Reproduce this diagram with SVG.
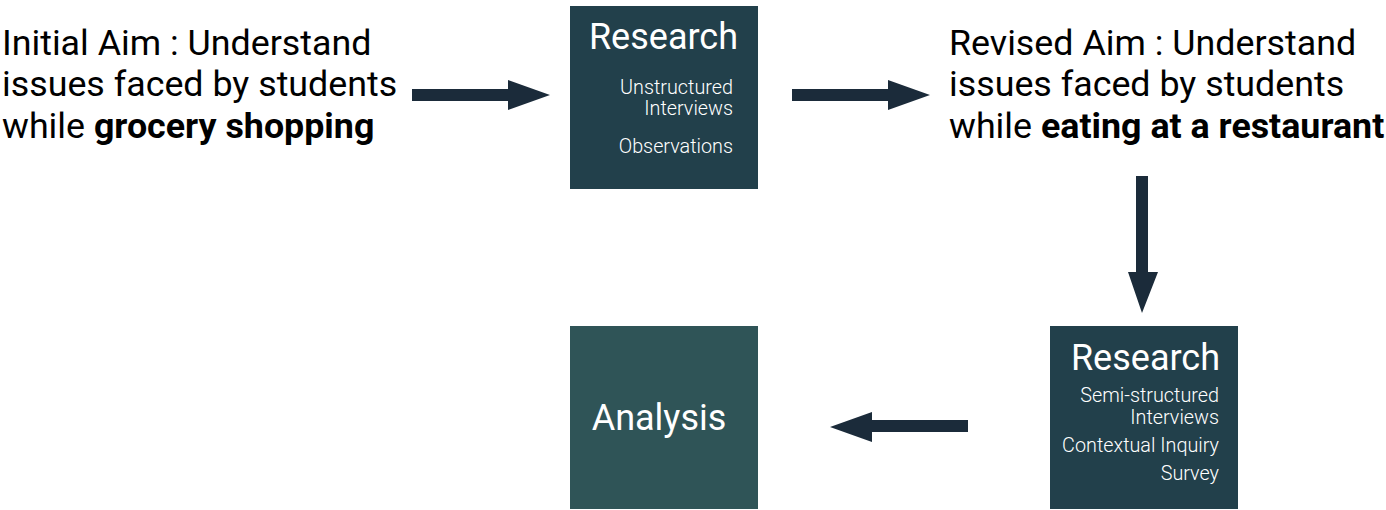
<svg xmlns="http://www.w3.org/2000/svg" width="1386" height="510" viewBox="0 0 1386 510">
<style>
.main{font-family:Roboto,"Liberation Sans",sans-serif;font-size:35.8px;fill:#000}
.b{font-weight:bold}
.title{font-family:Roboto,"Liberation Sans",sans-serif;font-size:36px;fill:#fff}
.sub{font-family:Roboto,"Liberation Sans",sans-serif;font-weight:300;font-size:19.8px;fill:#fff;text-anchor:end}
.arrow{fill:#1b2b3a}
</style>
<rect width="1386" height="510" fill="#fff"/>
<g id="initial-aim">
<text class="main" x="2" y="55">Initial Aim : Understand</text>
<text class="main" x="2" y="96">issues faced by students</text>
<text class="main" x="2" y="138">while <tspan class="b">grocery shopping</tspan></text>
</g>
<g id="research1">
<rect x="570" y="6" width="188" height="183" fill="#22404b"/>
<text class="title" x="738" y="49" text-anchor="end">Research</text>
<text class="sub" x="733" y="94">Unstructured</text>
<text class="sub" x="733" y="115">Interviews</text>
<text class="sub" x="733" y="153">Observations</text>
</g>
<g id="revised-aim">
<text class="main" x="949" y="55">Revised Aim : Understand</text>
<text class="main" x="949" y="96">issues faced by students</text>
<text class="main" x="949" y="138">while <tspan class="b">eating at a restaurant</tspan></text>
</g>
<g id="research2">
<rect x="1050" y="326" width="188" height="183" fill="#22404b"/>
<text class="title" x="1220" y="370" text-anchor="end">Research</text>
<text class="sub" x="1219" y="402">Semi-structured</text>
<text class="sub" x="1219" y="424">Interviews</text>
<text class="sub" x="1219" y="452">Contextual Inquiry</text>
<text class="sub" x="1219" y="480">Survey</text>
</g>
<g id="analysis">
<rect x="570" y="326" width="188" height="183" fill="#2f5457"/>
<text class="title" x="659" y="430" text-anchor="middle">Analysis</text>
</g>
<g id="connectors">
<polygon class="arrow" points="412,89 508,89 508,80 550,95 508,110 508,101 412,101"/>
<polygon class="arrow" points="792,89 888,89 888,80 930,95 888,110 888,101 792,101"/>
<polygon class="arrow" points="1136,176 1148,176 1148,272 1158,272 1142,313 1128,272 1136,272"/>
<polygon class="arrow" points="968,420 872,420 872,412 830,427 872,442 872,432 968,432"/>
</g>
</svg>
